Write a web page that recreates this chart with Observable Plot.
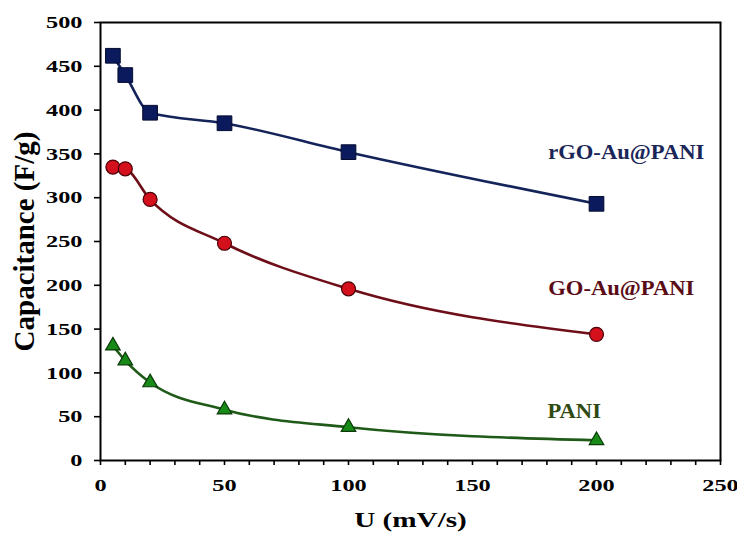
<!DOCTYPE html>
<html><head><meta charset="utf-8">
<script src="https://cdn.jsdelivr.net/npm/d3@7"></script>
<script src="https://cdn.jsdelivr.net/npm/@observablehq/plot@0.6"></script>
<style>body{margin:0;background:#fff} svg{display:block}</style>
</head><body><div id="chart"></div>
<script>
const scanRates = [5, 10, 20, 50, 100, 200];
const rgoAuPani = [462, 440, 397, 385, 352, 293];
const goAuPani = [335, 333, 298, 248, 196, 144];
const pani = [131, 114, 89, 58, 38, 23];
const seriesNames = ["rGO-Au@PANI", "GO-Au@PANI", "PANI"];
const labelX = [212, 210, 191];
const labelY = [352, 196, 56];
const xTitle = "U (mV/s)";
const yTitle = "Capacitance (F/g)";
const xTickLabels = [0, 50, 100, 150, 200, 250];
const xTickMarks = [0, 10, 20, 30, 40, 50, 60, 70, 80, 90, 100, 110, 120, 130, 140, 150, 160, 170, 180, 190, 200, 210, 220, 230, 240, 250];
const yTickLabels = [0, 50, 100, 150, 200, 250, 300, 350, 400, 450, 500];

const toRows = (vals) => scanRates.map((x, i) => ({x, y: vals[i]}));
const rRGO = toRows(rgoAuPani), rGO = toRows(goAuPani), rPANI = toRows(pani);
const labels = seriesNames.map((name, i) => ({name, x: labelX[i], y: labelY[i]}));

const font = "'Liberation Serif', 'Times New Roman', serif";
const svg = Plot.plot({
  width: 737, height: 534,
  marginLeft: 100, marginRight: 17, marginTop: 22, marginBottom: 74,
  style: {fontFamily: font, fontWeight: "bold", color: "#000", background: "#fff"},
  x: {domain: [0, 250], axis: null},
  y: {domain: [0, 500], axis: null},
  marks: [
    Plot.axisX({ticks: xTickMarks, tickSize: 5, tickPadding: 13, strokeWidth: 1.6, fontSize: 17.5, fontWeight: "bold",
      tickFormat: d => xTickLabels.includes(d) ? String(d) : "", label: null}),
    Plot.axisY({ticks: yTickLabels, tickSize: 6, tickPadding: 12, strokeWidth: 1.6, fontSize: 17.5, fontWeight: "bold",
      label: null}),
    Plot.frame({stroke: "#000", strokeWidth: 2}),
    Plot.line(rRGO, {x: "x", y: "y", stroke: "#14245a", strokeWidth: 2.6, curve: "monotone-x"}),
    Plot.line(rGO, {x: "x", y: "y", stroke: "#6e0e18", strokeWidth: 2.6, curve: "monotone-x"}),
    Plot.line(rPANI, {x: "x", y: "y", stroke: "#1f5a18", strokeWidth: 2.6, curve: "monotone-x"}),
    Plot.dot(rRGO, {x: "x", y: "y", symbol: "square", r: 8.3, fill: "#0b1a5c", stroke: "#050c30", strokeWidth: 1}),
    Plot.dot(rGO, {x: "x", y: "y", symbol: "circle", r: 7, fill: "#d4101c", stroke: "#4a0008", strokeWidth: 1.2}),
    Plot.dot(rPANI, {x: "x", y: "y", symbol: "triangle", r: 5.4, fill: "#178a18", stroke: "#0a3a08", strokeWidth: 1.2}),
    Plot.text(labels, {x: "x", y: "y", text: "name", fontSize: 20, fontWeight: "bold",
      fill: (d, i) => ["#1a2658", "#5a0c16", "#2f4a12"][i]}),
    Plot.text([xTitle], {frameAnchor: "bottom", dy: 66, textAnchor: "middle", fontSize: 21, fontWeight: "bold", fill: "#000"}),
    Plot.text([yTitle], {frameAnchor: "left", dx: -76, rotate: -90, textAnchor: "middle", fontSize: 29, fontWeight: "bold", fill: "#000"})
  ]
});
document.getElementById("chart").appendChild(svg);

function stretch(el, k) {
  const w = el.getComputedTextLength();
  if (w > 0) {
    el.setAttribute("textLength", w * k);
    el.setAttribute("lengthAdjust", "spacingAndGlyphs");
  }
}
d3.select(svg).selectAll("text").each(function () {
  const t = this.textContent;
  if (t === yTitle) return;
  if (seriesNames.includes(t)) stretch(this, 1.13);
  else stretch(this, 1.39);
});
</script>
</body></html>
